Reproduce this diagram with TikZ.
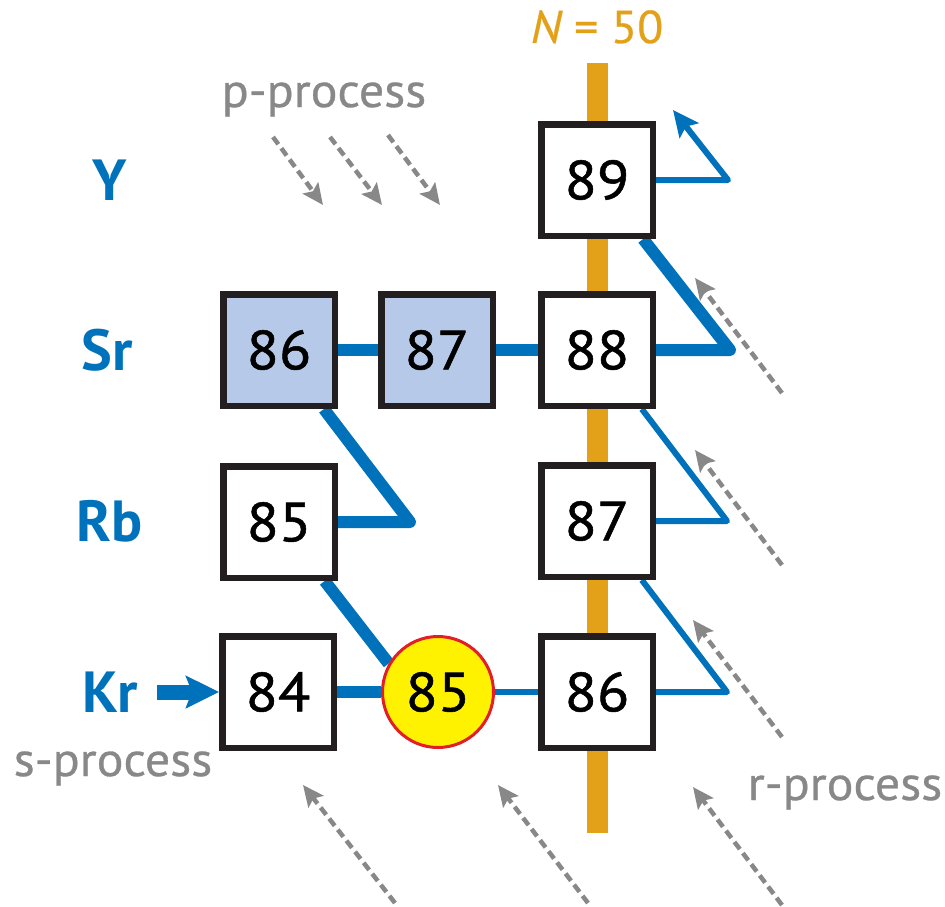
\documentclass[tikz,border=0pt]{standalone}
\usepackage{fontspec}
\setmainfont{PT Sans}
\newfontfamily\numfont[FakeBold=1,FakeStretch=1.08]{PT Sans}
\newfontfamily\procfont[FakeBold=0.6,FakeStretch=1.04]{PT Sans}
\usetikzlibrary{arrows.meta,backgrounds}
\definecolor{nucblue}{RGB}{0,114,188}
\definecolor{magic}{RGB}{227,161,26}
\definecolor{stable}{RGB}{182,201,232}
\definecolor{procgray}{RGB}{136,136,136}
\definecolor{branchyellow}{RGB}{255,242,0}
\definecolor{branchred}{RGB}{228,30,38}
\definecolor{boxedge}{RGB}{35,31,32}
\begin{document}
\begin{tikzpicture}[x=1pt,y=-1pt,
  nuc/.style={draw=boxedge, line width=6.5pt, fill=white, minimum size=111.5pt,
    inner sep=0pt, font=\numfont\fontsize{55}{60}\selectfont},
  stab/.style={nuc, fill=stable},
  branch/.style={circle, draw=branchred, line width=3pt, fill=branchyellow,
    minimum size=111pt, inner sep=0pt, font=\numfont\fontsize{55}{60}\selectfont},
  elem/.style={text=nucblue, font=\fontsize{58}{62}\selectfont\bfseries},
  proc/.style={text=procgray, font=\procfont\fontsize{48}{52}\selectfont, anchor=base},
  flowthick/.style={draw=nucblue, line width=12pt, line join=round},
  flowthin/.style={draw=nucblue, line width=6pt, line join=round},
  capture/.style={draw=procgray, line width=4.5pt, dash pattern=on 9pt off 5pt,
    -{Stealth[length=21pt,width=19pt,inset=4pt]}},
]
\useasboundingbox (0,0) rectangle (945,907);

% nuclides
\node[nuc]  (y89)  at (597,180) {89};
\node[nuc]  (sr88) at (597,350) {88};
\node[stab] (sr87) at (437,350) {87};
\node[stab] (sr86) at (279,350) {86};
\node[nuc]  (rb87) at (597,521) {87};
\node[nuc]  (rb85) at (279,522) {85};
\node[nuc]  (kr86) at (597,692) {86};
\node[branch] (kr85) at (438,692) {85};
\node[nuc]  (kr84) at (278,692) {84};

% element names
\node[elem] (lY)  at (110,180) {Y};
\node[elem] (lSr) at (107,350) {Sr};
\node[elem] (lRb) at (110,521) {Rb};
\node[elem] (lKr) at (110,692) {Kr};

% process labels
\node[proc] (pproc) at (324,107) {p-process};
\node[proc] (sproc) at (113,776) {s-process};
\node[proc] (rproc) at (845,800) {r-process};
\node[text=magic, font=\procfont\fontsize{46}{50}\selectfont, anchor=base] (nlab) at (597,43)
  {{\itshape N} = 50};

% bend points of the reaction paths
\coordinate (b89) at (728,180);
\coordinate (t89) at (673,110);
\coordinate (b88) at (730,350);
\coordinate (b87) at (727,521);
\coordinate (b86) at (727,692);
\coordinate (b85) at (410,522);
\coordinate (sin) at (157,692);

\begin{scope}[on background layer]
  % closed neutron shell
  \fill[magic] (587,63) rectangle (608,833);
  % reaction paths
  \draw[flowthin, -{Stealth[length=26pt,width=24pt,inset=5pt]}] (y89) -- (b89) -- (t89);
  \draw[flowthick] (y89) -- (b88) -- (sr88);
  \draw[flowthick] (sr86) -- (sr87) -- (sr88);
  \draw[flowthin] (sr88) -- (b87) -- (rb87);
  \draw[flowthin] (rb87) -- (b86) -- (kr86);
  \draw[flowthick] (sr86) -- (b85) -- (rb85);
  \draw[flowthick] (rb85) -- (kr85.150);
  \draw[flowthick] (kr84) -- (kr85);
  \draw[flowthin] (kr85) -- (kr86);
  \draw[draw=nucblue, line width=15pt, -{Stealth[length=33pt,width=32pt,inset=6pt]}]
    (sin) -- (kr84.west);
\end{scope}

% p-process captures
\draw[capture] (273,137) -- (323,205);
\draw[capture] (330,137) -- (382,205);
\draw[capture] (388,135) -- (440,205);
% r-process feeding
\draw[capture] (782,393) -- (695,278);
\draw[capture] (782,565) -- (695,450);
\draw[capture] (782,737) -- (693,620);
\draw[capture] (395,903) -- (303,785);
\draw[capture] (588,903) -- (498,785);
\draw[capture] (782,905) -- (693,787);
\end{tikzpicture}
\end{document}
